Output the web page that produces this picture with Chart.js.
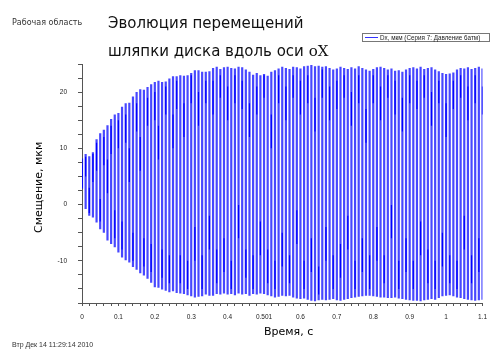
<!DOCTYPE html>
<html>
<head>
<meta charset="utf-8">
<script src="https://cdn.jsdelivr.net/npm/chart.js@4"></script>
<style>
  body { margin: 0; background: #fff; }
  #wrap { position: relative; width: 494px; height: 352px; overflow: hidden; }
  #wrap div { position: absolute; white-space: nowrap; line-height: 1; }
  .small { font: 8px "DejaVu Sans"; color: #333; }
  .title { font: 15px "DejaVu Sans"; color: #111; left: 108px; }
  .serif { font-family: "DejaVu Serif"; }
  .axis { font: 11px "DejaVu Sans"; color: #000; }
  #legend { left: 362px; top: 33px; width: 126px; height: 7px; border: 1px solid #777; }
  #legend span.ln { position: absolute; left: 2px; top: 3px; width: 13px; height: 1px; background: #3333ff; }
  #legend span.tx { position: absolute; left: 17px; top: 0px; font: 6.3px "Liberation Sans"; color: #222; line-height: 7px; }
</style>
</head>
<body>
<div id="wrap">
  <canvas id="chart" width="494" height="352"></canvas>
  <div class="small" style="left:12px; top:19px;">Рабочая область</div>
  <div class="title" style="top:15.5px;">Эволюция перемещений</div>
  <div class="title" style="top:44px;">шляпки диска вдоль оси <span class="serif">oX</span></div>
  <div id="legend"><span class="ln"></span><span class="tx">Dx, мкм (Серия 7: Давление 6атм)</span></div>
  <div class="axis" style="left:33px; top:233px; transform-origin: 0 0; transform: rotate(-90deg);">Смещение, мкм</div>
  <div class="axis" style="left:264px; top:326px;">Время, с</div>
  <div style="left:12px; top:341px; font: 7px 'Liberation Sans'; color:#333;">Втр Дек 14 11:29:14 2010</div>
</div>
<script>
// one column every 0.01 s, from 0 to 1.1 s
const colStep = 0.01;

// top of each column (мкм)
const colHigh = [
    8.2, 9.0, 8.6, 9.3, 11.6, 12.7, 13.3, 14.1, 15.2, 16.0,
    16.3, 17.4, 18.0, 18.1, 19.2, 20.0, 20.5, 20.4, 20.9, 21.4,
    21.8, 22.0, 21.8, 21.9, 22.4, 22.8, 22.8, 23.0, 22.9, 23.0,
    23.4, 23.9, 23.9, 23.6, 23.6, 23.7, 24.3, 24.5, 24.1, 24.4,
    24.5, 24.3, 24.2, 24.5, 24.4, 24.0, 23.6, 23.1, 23.4, 23.0,
    23.2, 22.9, 23.6, 23.9, 24.2, 24.5, 24.3, 24.1, 24.5, 24.4,
    24.2, 24.6, 24.7, 24.8, 24.6, 24.7, 24.5, 24.6, 24.3, 24.0,
    24.2, 24.5, 24.3, 24.1, 24.4, 24.2, 24.6, 24.3, 24.0, 23.8,
    24.1, 24.4, 24.5, 24.3, 24.0, 24.2, 23.8, 23.9, 23.6, 24.0,
    24.3, 24.4, 24.2, 24.5, 24.1, 24.3, 24.4, 24.0, 23.7, 23.4,
    23.2, 23.3, 23.5, 24.0, 24.3, 24.2, 24.4, 24.1, 24.3, 24.5, 24.2
];

// bottom of each column (мкм)
const colLow = [
    2.8, -0.8, -2.0, -2.3, -3.2, -4.4, -5.0, -6.4, -7.0, -7.6,
    -8.5, -9.4, -9.9, -10.3, -11.1, -11.6, -12.2, -12.6, -13.2, -13.9,
    -14.7, -14.8, -15.1, -15.3, -15.6, -15.4, -15.7, -15.8, -15.9, -16.1,
    -16.3, -16.5, -16.4, -16.3, -16.0, -16.2, -16.2, -15.9, -16.0, -15.8,
    -16.0, -15.9, -16.1, -15.8, -16.0, -15.9, -16.2, -15.9, -16.0, -15.8,
    -15.9, -16.1, -16.3, -16.5, -16.4, -16.2, -16.3, -16.2, -16.5, -16.7,
    -16.8, -16.7, -16.9, -17.1, -17.2, -17.0, -16.9, -17.0, -16.9, -16.8,
    -17.0, -17.1, -16.9, -16.8, -16.6, -16.5, -16.4, -16.3, -16.2, -16.2,
    -16.3, -16.4, -16.5, -16.5, -16.6, -16.6, -16.5, -16.7, -16.8, -16.9,
    -17.0, -17.1, -17.1, -17.2, -17.0, -16.9, -16.8, -16.9, -16.6, -16.3,
    -16.2, -16.1, -16.3, -16.5, -16.6, -16.8, -16.9, -17.0, -17.1, -17.0, -16.9
];

// darker stretch inside each column, where the trace overlaps itself
const colCore = [
    [3, 7], [5, 8.5], [-1.5, 3], [4, 9], [6, 11], [-3, 1], [7, 12], [2, 8], [9, 14], [-6, -1],
    [10, 15], [-8, -3], [11, 16], [4, 10], [-10, -5], [13, 18], [6, 12], [-11, -6], [14, 19], [-12, -7],
    [15, 20], [8, 14], [-13, -8], [16, 21], [-14, -9], [10, 16], [17, 22], [-14, -9], [12, 18], [-15, -10],
    [18, 23], [-10, -4], [14, 20], [-15, -9], [18, 22], [-8, -2], [16, 22], [-14, -8], [19, 23], [-12, -6],
    [15, 21], [-15, -10], [18, 23], [-6, 0], [17, 22], [-13, -8], [12, 18], [-15, -9], [16, 21], [-9, -3],
    [19, 23], [-14, -8], [10, 16], [-15, -10], [18, 23], [-11, -5], [15, 21], [-14, -9], [19, 23], [-7, -1],
    [16, 22], [-15, -10], [18, 23], [-12, -6], [13, 19], [-16, -11], [19, 24], [-10, -4], [15, 21], [-15, -9],
    [17, 22], [-13, -7], [19, 23], [-8, -2], [14, 20], [-15, -10], [18, 23], [-12, -6], [11, 17], [-15, -9],
    [18, 23], [-10, -4], [15, 21], [-14, -9], [19, 23], [-6, 0], [16, 22], [-15, -10], [13, 19], [-12, -6],
    [18, 23], [-15, -10], [17, 22], [-9, -3], [19, 23], [-14, -8], [14, 20], [-15, -10], [18, 22], [-11, -5],
    [12, 18], [-14, -9], [17, 22], [-15, -10], [19, 23], [-8, -2], [15, 21], [-14, -9], [18, 23], [-12, -6], [16, 21]
];

// axes
const yTickValues = [-17.5, -15, -12.5, -10, -7.5, -5, -2.5, 0, 2.5, 5, 7.5, 10, 12.5, 15, 17.5, 20, 22.5, 25];
const yTickLabels = { '-10': '-10', '0': '0', '10': '10', '20': '20' };
const xMinorStep = 0.02;
const xTickLabels = ['0', '0.1', '0.2', '0.3', '0.4', '0.501', '0.6', '0.7', '0.8', '0.9', '1', '1.1'];

const traceColor = 'rgba(0, 0, 255, 0.72)';
const coreColor = '#0000ff';
const axisColor = '#555';

const fullCols = colHigh.map((hi, k) => ({ x: k * colStep, y: [colLow[k], hi] }));
const coreCols = colCore.map((c, k) => ({ x: k * colStep, y: c }));

function xTicks(scale) {
    const n = Math.round(1.1 / xMinorStep);
    const ticks = [];
    for (let i = 0; i <= n; i++) {
        ticks.push({ value: Math.round(i * xMinorStep * 1000) / 1000 });
    }
    scale.ticks = ticks;
}

new Chart(document.getElementById('chart').getContext('2d'), {
    type: 'bar',
    data: {
        datasets: [
            { data: fullCols, backgroundColor: traceColor, barThickness: 2.2 },
            { data: coreCols, backgroundColor: coreColor, barThickness: 1.2 }
        ]
    },
    options: {
        responsive: false,
        animation: false,
        devicePixelRatio: 1,
        grouped: false,
        inflateAmount: 0,
        borderWidth: 0,
        layout: { padding: { top: 64, right: 5, left: 0, bottom: 0 } },
        plugins: { legend: { display: false }, tooltip: { enabled: false } },
        scales: {
            x: {
                type: 'linear',
                min: 0,
                max: 1.1,
                offset: false,
                afterBuildTicks: xTicks,
                afterFit: scale => { scale.height = 49; },
                grid: { offset: false, drawOnChartArea: false, drawTicks: true, tickLength: 3, color: axisColor },
                border: { display: true, color: axisColor },
                ticks: {
                    autoSkip: false,
                    maxRotation: 0,
                    padding: 7,
                    color: '#222',
                    font: { family: 'Liberation Sans', size: 6.5 },
                    callback: value => {
                        const i = Math.round(value * 10);
                        return Math.abs(value * 10 - i) < 1e-6 ? xTickLabels[i] : '';
                    }
                }
            },
            y: {
                min: -17.5,
                max: 25,
                afterBuildTicks: scale => { scale.ticks = yTickValues.map(v => ({ value: v })); },
                afterFit: scale => { scale.width = 82; },
                grid: { drawOnChartArea: false, drawTicks: true, tickLength: 4, color: axisColor },
                border: { display: true, color: axisColor },
                ticks: {
                    autoSkip: false,
                    padding: 11,
                    color: '#222',
                    font: { family: 'Liberation Sans', size: 6.5 },
                    callback: value => yTickLabels[String(value)] || ''
                }
            }
        }
    }
});
</script>
</body>
</html>
